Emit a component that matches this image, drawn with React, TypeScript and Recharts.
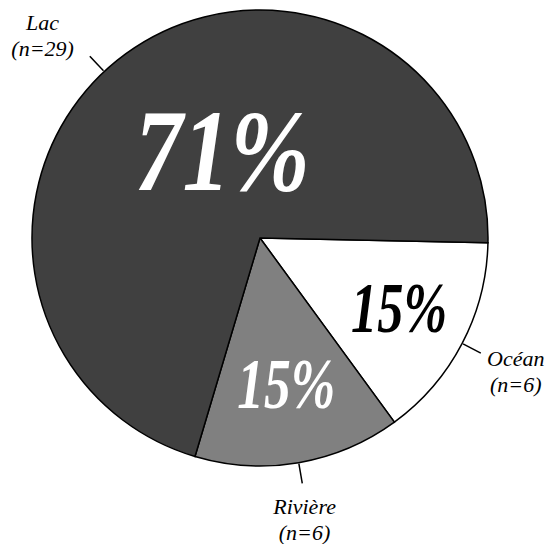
import React from 'react';
import { PieChart, Pie, Cell } from 'recharts';

const categories = ['Océan', 'Rivière', 'Lac'];
const counts = [6, 6, 29];
const fills = ['#ffffff', '#808080', '#404040'];
const pctColors = ['#000000', '#ffffff', '#ffffff'];

const data = categories.map((name, i) => ({ name, value: counts[i] }));

const RAD = Math.PI / 180;
const FONT = 'Liberation Serif, DejaVu Serif, serif';

// label styling per slice (angle nudges in degrees, radii in px)
const nameNudge = [-1.3, -1, 12];
const leaderNudge = [0, 0, 7];
const pctNudge = [-6.6, -1, 2];
const pctRadius = [168, 172, 61];
const pctSize = [72, 72, 116];
const pctWidth = [96, 98, 175];

const pt = (cx: number, cy: number, r: number, a: number) => ({
  x: cx + r * Math.cos(a * RAD),
  y: cy - r * Math.sin(a * RAD),
});

const renderLabel = (props: any) => {
  const { cx, cy, midAngle, outerRadius, index, percent, payload } = props;
  const total = counts.reduce((s, v) => s + v, 0);
  const pct = Math.round(((percent ?? counts[index] / total) as number) * 100);
  const la = midAngle + leaderNudge[index];
  const p1 = pt(cx, cy, outerRadius + 1, la);
  const p2 = pt(cx, cy, outerRadius + 21, la);
  const t = pt(cx, cy, outerRadius + 64, midAngle + nameNudge[index]);
  const pc = pt(cx, cy, pctRadius[index], midAngle + pctNudge[index]);
  const name = payload?.name ?? categories[index];
  const txt = { fontFamily: FONT, fontStyle: 'italic' as const };
  return (
    <g key={`lbl-${index}`}>
      <line x1={p1.x} y1={p1.y} x2={p2.x} y2={p2.y} stroke="#000" strokeWidth={1.5} />
      <text x={t.x} y={t.y - 13} textAnchor="middle" style={{ ...txt, fontSize: 22 }} fill="#000">
        {name}
      </text>
      <text x={t.x} y={t.y + 13} textAnchor="middle" style={{ ...txt, fontSize: 22 }} fill="#000">
        {`(n=${counts[index]})`}
      </text>
      <text
        x={pc.x}
        y={pc.y}
        textAnchor="middle"
        style={{ ...txt, fontWeight: 'bold', fontSize: pctSize[index] }}
        textLength={pctWidth[index]}
        lengthAdjust="spacingAndGlyphs"
        fill={pctColors[index]}
      >
        {`${pct}%`}
      </text>
    </g>
  );
};

export default function App() {
  return (
    <div style={{ position: 'absolute', left: 0, top: 0, width: 551, height: 544, background: '#fff', fontFamily: FONT }}>
      <PieChart width={551} height={544} margin={{ top: 0, right: 0, bottom: 0, left: 0 }}>
        <Pie
          data={data}
          dataKey="value"
          nameKey="name"
          cx={260}
          cy={238}
          outerRadius={228}
          startAngle={-1.2}
          endAngle={-361.2}
          stroke="#000"
          strokeWidth={1.5}
          label={renderLabel}
          labelLine={false}
          isAnimationActive={false}
        >
          {data.map((d, i) => (
            <Cell key={d.name} fill={fills[i]} stroke="#000" strokeWidth={1.5} />
          ))}
        </Pie>
      </PieChart>
    </div>
  );
}
